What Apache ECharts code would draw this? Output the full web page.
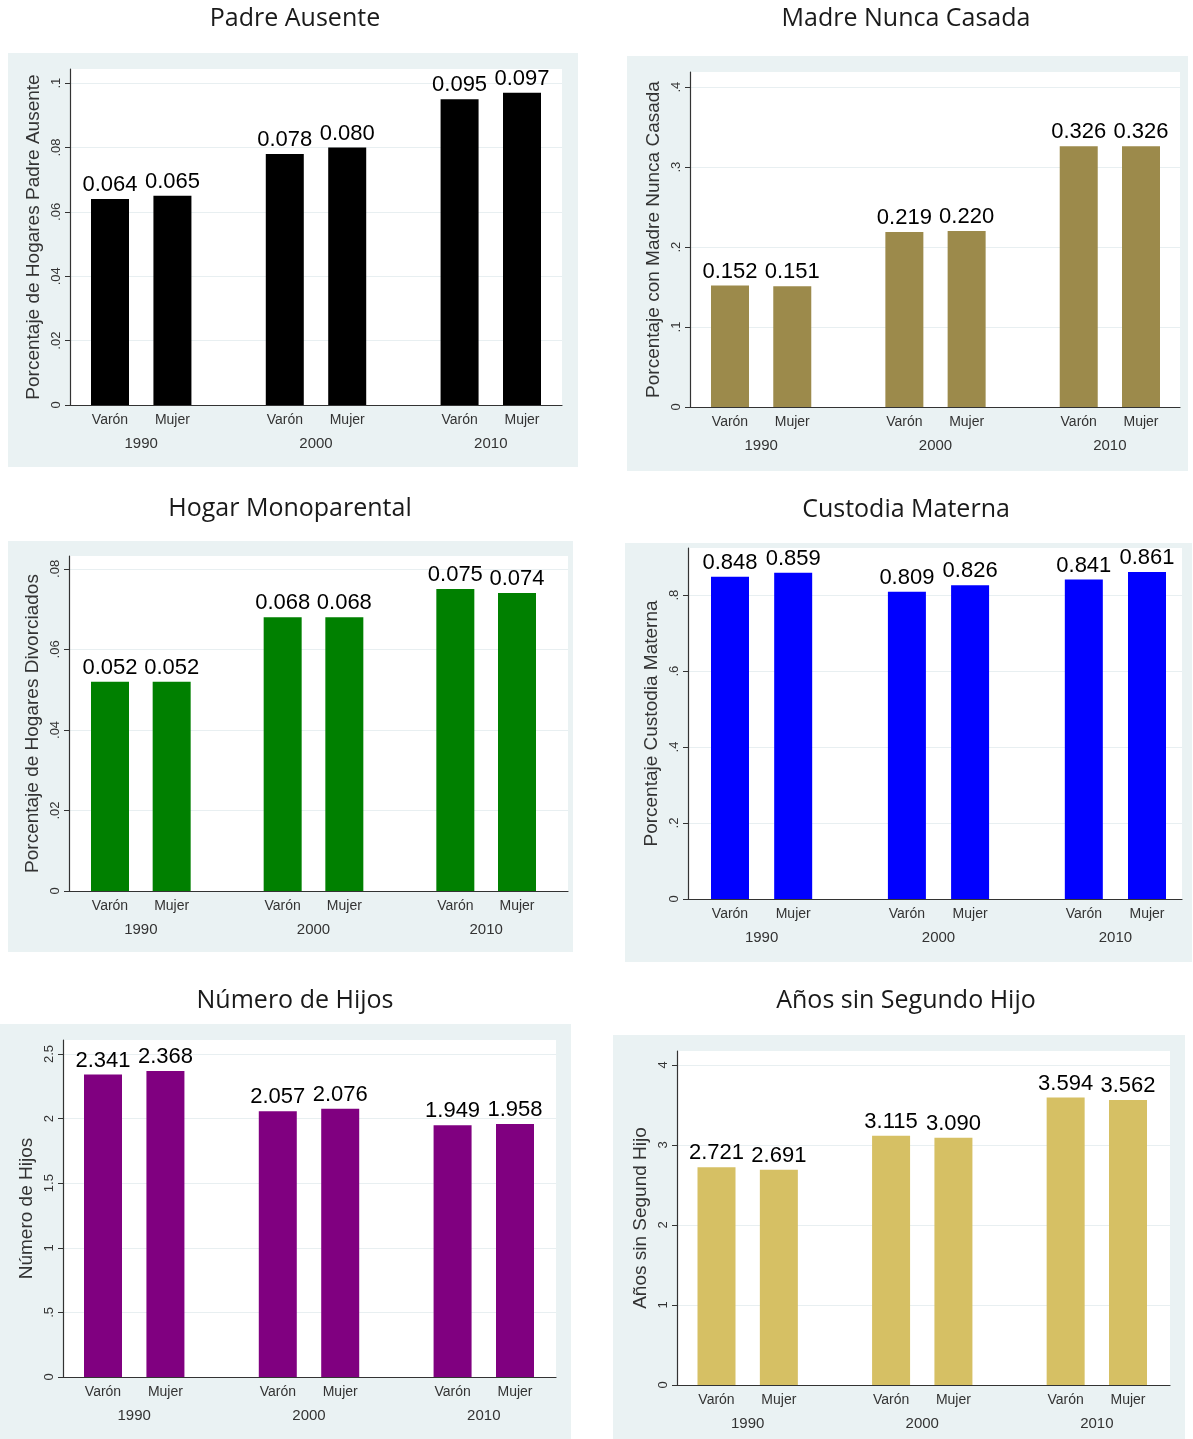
<!DOCTYPE html>
<html><head><meta charset="utf-8">
<script src="https://cdn.jsdelivr.net/npm/echarts@6/dist/echarts.min.js"></script>
<style>html,body{margin:0;padding:0;background:#fff}#c{width:1193px;height:1439px}</style>
</head><body><div id="c"></div>
<script>
// ---------- DATA ----------
const sexes = ['Varón', 'Mujer'];
const years = ['1990', '2000', '2010'];
const titles = ['Padre Ausente', 'Madre Nunca Casada', 'Hogar Monoparental', 'Custodia Materna', 'Número de Hijos', 'Años sin Segundo Hijo'];
const yNames = ['Porcentaje de Hogares Padre Ausente', 'Porcentaje con Madre Nunca Casada', 'Porcentaje de Hogares Divorciados', 'Porcentaje Custodia Materna', 'Número de Hijos', 'Años sin Segund Hijo'];
// order: 1990 Varón, 1990 Mujer, 2000 Varón, 2000 Mujer, 2010 Varón, 2010 Mujer
const padreAusente = [0.064, 0.065, 0.078, 0.080, 0.095, 0.097];
const madreNuncaCasada = [0.152, 0.151, 0.219, 0.220, 0.326, 0.326];
const hogarMonoparental = [0.052, 0.052, 0.068, 0.068, 0.075, 0.074];
const custodiaMaterna = [0.848, 0.859, 0.809, 0.826, 0.841, 0.861];
const numeroHijos = [2.341, 2.368, 2.057, 2.076, 1.949, 1.958];
const aniosSinSegundo = [2.721, 2.691, 3.115, 3.090, 3.594, 3.562];
const ticks1 = [0, 0.02, 0.04, 0.06, 0.08, 0.1];
const ticks2 = [0, 0.1, 0.2, 0.3, 0.4];
const ticks3 = [0, 0.02, 0.04, 0.06, 0.08];
const ticks4 = [0, 0.2, 0.4, 0.6, 0.8];
const ticks5 = [0, 0.5, 1, 1.5, 2, 2.5];
const ticks6 = [0, 1, 2, 3, 4];

const seriesData = [padreAusente, madreNuncaCasada, hogarMonoparental, custodiaMaterna, numeroHijos, aniosSinSegundo];
const tickSets = [ticks1, ticks2, ticks3, ticks4, ticks5, ticks6];

// ---------- LAYOUT / STYLE ----------
const colors = ['#000000', '#9c8a4b', '#008000', '#0000ff', '#800080', '#d6c064'];
// box [x,y,w,h], title [cx,cy], grid [left, top, right, baseline], first / last bar centre px, y max
const layout = [
  {box: [8, 53, 570, 414], title: [295, 19], grid: [70, 69, 562, 405], c0: 110, c1: 522, yMax: 0.1044},
  {box: [627, 56, 561, 415], title: [906, 19], grid: [690, 72, 1180, 407], c0: 730, c1: 1141, yMax: 0.419},
  {box: [8, 541, 565, 411], title: [290, 509], grid: [69, 556, 568, 891], c0: 110, c1: 517, yMax: 0.0832},
  {box: [625, 543, 567, 419], title: [906, 510], grid: [688, 548, 1182, 899], c0: 730, c1: 1147, yMax: 0.924},
  {box: [0, 1024, 571, 415], title: [295, 1001], grid: [63, 1040, 556, 1377], c0: 103, c1: 515, yMax: 2.608},
  {box: [613, 1035, 572, 404], title: [906, 1001], grid: [677, 1051, 1170, 1385], c0: 716.5, c1: 1128, yMax: 4.175}
];
const GAP = 2.8; // group spacing in bar-spacing units
const posOf = k => Math.floor(k / 2) * GAP + (k % 2);
const LAST = posOf(5);
const FONT = 'Liberation Sans';

function fmtTick(v) {
  let s = String(v);
  if (s.startsWith('0.')) s = s.slice(1);
  return s;
}
function sexOf(v) {
  const g = Math.floor((v + 0.01) / GAP);
  return sexes[Math.round(v - g * GAP)];
}
function yearOf(v) {
  return years[Math.round((v - 0.5) / GAP)];
}

const graphic = [], grid = [], xAxis = [], yAxis = [], series = [];
layout.forEach((L, i) => {
  graphic.push({type: 'rect', z: -10, shape: {x: L.box[0], y: L.box[1], width: L.box[2], height: L.box[3]}, style: {fill: '#eaf2f3'}});
  graphic.push({type: 'text', z: 10, x: L.title[0], y: L.title[1], style: {text: titles[i], textAlign: 'center', textVerticalAlign: 'middle', font: '500 25px "Open Sans"', fill: '#1a1a1a'}});
  const [gl, gt, gr, gb] = L.grid;
  grid.push({left: gl, top: gt, width: gr - gl, height: gb - gt, show: true, backgroundColor: '#ffffff', borderWidth: 0, containLabel: false});
  const u = (L.c1 - L.c0) / LAST;
  const xmin = (gl - L.c0) / u, xmax = (gr - L.c0) / u;
  const barPos = seriesData[i].map((_, k) => posOf(k));
  const groupPos = years.map((_, g) => g * GAP + 0.5);
  xAxis.push({
    type: 'value', gridIndex: i, position: 'bottom', min: xmin, max: xmax,
    axisLine: {show: true, onZero: false, lineStyle: {color: '#333', width: 1.2}},
    axisTick: {show: false}, splitLine: {show: false},
    axisLabel: {customValues: barPos, formatter: sexOf, margin: 8, fontSize: 14, color: '#333', fontFamily: FONT}
  });
  xAxis.push({
    type: 'value', gridIndex: i, position: 'bottom', offset: 23, min: xmin, max: xmax,
    axisLine: {show: false}, axisTick: {show: false}, splitLine: {show: false},
    axisLabel: {customValues: groupPos, formatter: yearOf, margin: 8, fontSize: 15, color: '#333', fontFamily: FONT}
  });
  const T = tickSets[i];
  yAxis.push({
    type: 'value', gridIndex: i, min: 0, max: L.yMax, interval: T[1],
    name: yNames[i], nameLocation: 'middle', nameRotate: 90, nameGap: 27,
    nameTextStyle: {fontSize: 19, color: '#333', fontFamily: FONT},
    axisLine: {show: true, onZero: false, lineStyle: {color: '#333', width: 1.2}},
    axisTick: {show: true, length: 5, customValues: T, lineStyle: {color: '#333'}},
    axisLabel: {customValues: T, formatter: fmtTick, rotate: 90, margin: 7, fontSize: 13, color: '#333', fontFamily: FONT},
    splitLine: {show: true, lineStyle: {color: '#e8eff1', width: 1}}
  });
  series.push({
    type: 'bar', xAxisIndex: 2 * i, yAxisIndex: i, barWidth: 38,
    itemStyle: {color: colors[i]},
    label: {show: true, position: 'top', distance: 3, fontSize: 22, color: '#000', fontFamily: FONT,
            formatter: p => p.value[1].toFixed(3)},
    data: seriesData[i].map((v, k) => [barPos[k], v])
  });
});

const chart = echarts.init(document.getElementById('c'), null, {renderer: 'canvas'});
chart.setOption({backgroundColor: '#ffffff', animation: false, graphic, grid, xAxis, yAxis, series});
</script></body></html>
